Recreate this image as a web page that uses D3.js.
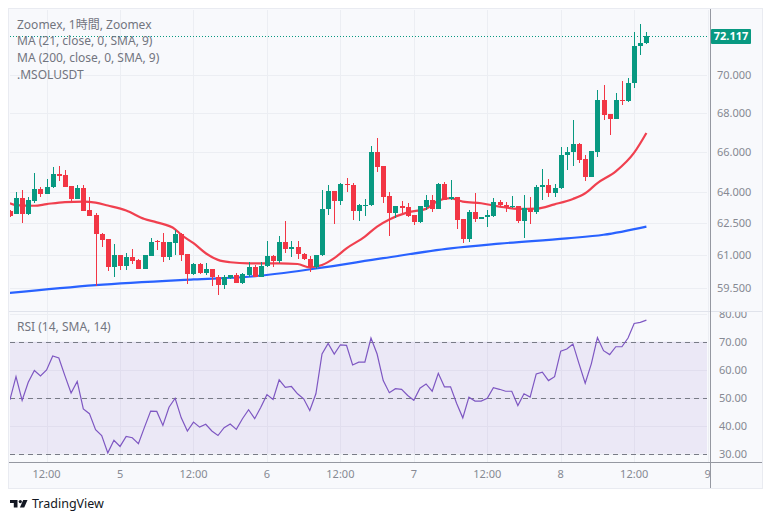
<!DOCTYPE html>
<html>
<head>
<meta charset="utf-8">
<script src="https://cdn.jsdelivr.net/npm/d3@7"></script>
<style>
body { margin: 0; background: #ffffff; }
svg text { font-family: "Noto Sans", "Noto Sans CJK JP", sans-serif; }
</style>
</head>
<body>
<div id="chart"></div>
<script>
// hourly bars, first one (partly hidden at the left edge) is day 4 06:00
var firstBar = Date.UTC(2024, 2, 4, 6);

var opens  = [63.10,62.95,63.71,62.95,63.60,64.17,63.94,64.25,64.91,64.86,64.31,63.69,64.20,63.15,62.90,62.00,61.74,60.46,61.01,60.51,60.92,60.78,60.37,60.98,61.65,61.61,60.92,61.58,62.00,61.05,60.14,60.60,60.19,60.35,59.97,59.63,59.94,60.08,59.72,60.08,60.46,60.00,60.49,60.97,60.75,61.61,61.30,61.38,61.06,60.80,60.43,60.99,63.20,64.07,63.60,64.43,64.36,63.11,63.36,63.37,66.03,65.30,63.82,63.02,63.34,63.28,62.90,62.56,63.31,63.63,63.20,64.41,63.68,63.76,62.69,61.75,63.07,62.72,62.79,62.85,63.55,63.41,63.28,63.33,62.61,63.23,63.07,64.29,64.36,63.99,64.22,65.84,66.00,66.44,65.66,64.78,66.03,68.69,67.96,67.72,68.69,68.65,69.57,71.56,71.76];
var highs  = [63.16,64.04,64.12,63.76,64.98,64.25,64.64,65.28,65.31,65.11,64.33,64.34,64.36,63.79,63.02,62.02,61.76,61.53,61.03,61.09,61.29,60.80,61.03,61.79,61.71,62.03,61.63,62.19,62.02,61.07,60.62,60.62,60.62,60.37,60.08,60.08,60.10,60.18,60.19,60.66,60.54,60.70,61.67,61.02,61.90,62.61,61.67,61.67,61.08,60.97,61.01,64.12,64.36,64.09,64.48,64.70,64.45,63.44,63.67,66.29,66.73,65.32,64.04,63.36,63.58,63.50,62.92,63.36,63.87,63.87,64.48,64.53,64.61,63.78,62.71,63.15,63.99,62.80,63.15,63.71,63.65,63.54,63.82,63.35,63.87,63.79,64.36,65.16,64.64,64.41,66.25,66.26,67.65,66.46,65.86,66.08,69.22,69.48,67.98,69.04,69.70,69.84,72.35,72.79,72.35];
var lows   = [62.80,62.93,62.53,62.90,63.47,63.77,63.92,64.22,64.58,64.26,63.58,63.67,63.09,62.85,59.59,61.40,60.28,60.00,60.31,60.31,60.60,60.35,60.35,60.96,61.24,60.70,60.78,61.01,60.75,59.67,60.08,60.15,60.08,59.59,59.17,59.43,59.88,59.70,59.69,60.00,59.98,59.98,60.46,60.46,60.63,61.11,60.92,60.81,60.78,60.23,60.34,60.97,62.90,62.46,63.39,64.04,62.66,62.63,62.85,63.33,65.03,63.50,61.92,62.74,62.99,62.82,62.42,62.54,63.15,63.07,63.18,63.61,63.61,62.23,61.56,61.63,62.55,62.70,62.31,62.79,63.30,63.07,63.26,62.53,61.82,62.46,62.94,63.63,63.79,63.79,64.17,65.11,65.33,65.47,64.58,64.76,65.78,67.65,66.87,67.70,68.41,68.60,69.34,71.11,71.72];
var closes = [62.84,63.71,62.96,63.63,64.17,63.94,64.28,64.91,64.83,64.28,63.68,64.20,63.11,62.87,62.00,61.72,60.46,61.01,60.51,60.92,60.75,60.37,61.01,61.61,61.60,60.92,61.61,62.00,61.02,60.14,60.60,60.19,60.35,59.97,59.63,59.97,60.08,59.72,60.13,60.43,60.00,60.49,60.97,60.75,61.61,61.29,61.38,61.06,60.80,60.43,60.99,63.20,64.07,63.60,64.43,64.35,63.11,63.37,63.39,66.03,65.27,63.79,63.02,63.34,63.23,62.87,62.58,63.34,63.63,63.20,64.41,63.63,63.77,62.66,61.77,63.07,62.69,62.79,62.90,63.55,63.37,63.28,63.33,62.61,63.26,63.07,64.29,64.38,63.99,64.22,65.86,66.02,66.44,65.61,64.78,66.06,68.69,67.91,67.72,68.69,68.64,69.57,71.58,71.74,72.117];

var rsiValues = [49.2,57.5,49.0,55.5,59.7,57.8,59.9,64.9,64.2,57.8,51.7,55.8,46.0,44.3,38.6,36.5,30.3,34.8,32.6,36.2,35.7,33.6,39.5,45.2,45.1,40.1,46.6,49.8,42.8,38.1,41.3,39.5,40.5,38.1,36.5,39.3,40.6,38.7,42.5,45.7,42.5,46.6,51.1,49.4,56.4,53.7,54.0,51.4,49.6,45.4,51.4,65.6,69.4,65.6,68.9,68.7,61.7,62.7,62.7,71.3,65.6,56.1,51.8,53.2,53.0,50.8,49.1,53.4,54.9,52.3,58.7,53.9,53.9,47.9,42.8,50.2,48.8,48.8,49.8,53.6,53.0,52.3,52.3,47.2,51.4,50.2,58.5,59.1,56.1,57.5,66.6,67.4,69.2,62.1,55.2,62.1,71.5,66.8,65.4,68.2,68.2,71.3,76.5,76.9,77.7];

// moving averages at some bars (bar number as in the arrays above)
var ma21Bars   = [0,1,4,6,9,12,14,16,19,22,24,27,28,30,32,34,36,39,44,47,49,51,53,55,58,60,62,65,68,70,72,74,77,80,83,86,89,92,94,96,99,102,104];
var ma21Values = [63.47,63.38,63.35,63.43,63.53,63.55,63.50,63.36,63.12,62.71,62.55,62.22,61.96,61.56,61.09,60.78,60.67,60.62,60.62,60.59,60.43,60.54,60.86,61.32,61.87,62.35,62.69,63.03,63.20,63.60,63.72,63.55,63.47,63.31,63.20,63.21,63.42,63.68,63.96,64.46,65.04,65.98,66.98];
var ma200Bars   = [0,14,30,39,50,61,72,80,91,97,104];
var ma200Values = [59.26,59.62,59.88,60.00,60.38,60.86,61.32,61.54,61.79,61.96,62.35];

var priceTicks = [59.5, 61, 62.5, 64, 66, 68, 70];
var rsiTicks = [30, 40, 50, 60, 70, 80];
var rsiLevels = [30, 50, 70];
var legendLines = ["Zoomex, 1時間, Zoomex", "MA (21, close, 0, SMA, 9)", "MA (200, close, 0, SMA, 9)", ".MSOLUSDT"];

var W = 772, H = 523;
var left = 10, plotRight = 707, axisX = 710, frameRight = 762;
var priceTop = 10, priceBottom = 311, rsiTop = 312, rsiBottom = 462;
var up = "#089981", down = "#f23645";
var gridColor = "#eceef3", textColor = "#868993";

function barTime(i) { return new Date(firstBar + i * 3600e3); }

var bars = closes.map(function (c, i) {
    return {t: barTime(i), o: opens[i], h: highs[i], l: lows[i], c: c};
});

var x = d3.scaleUtc()
    .domain([barTime(1), barTime(104)])
    .range([16, 646.4]);
var y = d3.scaleLog()
    .domain([70, 59.5])
    .range([75.3, 287.7]);
var yRsi = d3.scaleLinear()
    .domain([30, 70])
    .range([453.7, 341.7]);

var svg = d3.select("#chart").append("svg")
    .attr("width", W)
    .attr("height", H);

svg.append("rect")
    .attr("x", 8.5).attr("y", 8.5)
    .attr("width", frameRight - 8).attr("height", 480)
    .attr("fill", "#f8f9fc")
    .attr("stroke", "#e9ebf1");

var defs = svg.append("defs");
defs.append("clipPath").attr("id", "clipPrice").append("rect")
    .attr("x", left).attr("y", priceTop).attr("width", plotRight - left).attr("height", priceBottom - priceTop);
defs.append("clipPath").attr("id", "clipRsi").append("rect")
    .attr("x", left).attr("y", rsiTop).attr("width", plotRight - left).attr("height", rsiBottom - rsiTop);
defs.append("clipPath").attr("id", "clipRsiAxis").append("rect")
    .attr("x", axisX).attr("y", rsiTop).attr("width", 60).attr("height", rsiBottom - rsiTop);
defs.append("clipPath").attr("id", "clipTime").append("rect")
    .attr("x", left).attr("y", rsiBottom).attr("width", axisX - left).attr("height", 30);

var timeTicks = d3.utcHour.every(12).range(barTime(6), barTime(115));

// grid
var grid = svg.append("g").attr("class", "grid")
    .attr("stroke", gridColor).attr("shape-rendering", "crispEdges");
grid.selectAll(".vgrid").data(timeTicks).enter().append("line")
    .attr("x1", function (d) { return Math.round(x(d)) + 0.5; })
    .attr("x2", function (d) { return Math.round(x(d)) + 0.5; })
    .attr("y1", priceTop).attr("y2", rsiBottom);
grid.selectAll(".pgrid").data(priceTicks).enter().append("line")
    .attr("x1", left).attr("x2", plotRight)
    .attr("y1", function (d) { return Math.round(y(d)) + 0.5; })
    .attr("y2", function (d) { return Math.round(y(d)) + 0.5; });
grid.selectAll(".rgrid").data(rsiTicks).enter().append("line")
    .attr("x1", left).attr("x2", plotRight)
    .attr("y1", function (d) { return Math.round(yRsi(d)) + 0.5; })
    .attr("y2", function (d) { return Math.round(yRsi(d)) + 0.5; });

// pane separator and axis lines
svg.append("line").attr("x1", 9).attr("x2", frameRight).attr("y1", 311.5).attr("y2", 311.5)
    .attr("stroke", "#e0e3eb");
svg.append("line").attr("x1", axisX + 0.5).attr("x2", axisX + 0.5).attr("y1", 9).attr("y2", 488)
    .attr("stroke", "#9598a1");
svg.append("line").attr("x1", 9).attr("x2", frameRight).attr("y1", rsiBottom + 0.5).attr("y2", rsiBottom + 0.5)
    .attr("stroke", "#9598a1");

// price pane
var pricePane = svg.append("g").attr("clip-path", "url(#clipPrice)");

var lastClose = closes[closes.length - 1];
pricePane.append("line")
    .attr("x1", left).attr("x2", plotRight)
    .attr("y1", Math.round(y(lastClose)) + 0.5).attr("y2", Math.round(y(lastClose)) + 0.5)
    .attr("stroke", up).attr("stroke-dasharray", "1,2");

function maLine(barsIdx) {
    return d3.line()
        .x(function (d, i) { return x(barTime(barsIdx[i])); })
        .y(function (d) { return y(d); })
        .curve(d3.curveMonotoneX);
}
pricePane.append("path").datum(ma200Values)
    .attr("d", maLine(ma200Bars))
    .attr("fill", "none").attr("stroke", "#2962ff").attr("stroke-width", 2.2);
pricePane.append("path").datum(ma21Values)
    .attr("d", maLine(ma21Bars))
    .attr("fill", "none").attr("stroke", "#f0404f").attr("stroke-width", 2.2);

var candle = pricePane.selectAll(".candle").data(bars).enter()
    .append("g").attr("class", "candle")
    .attr("fill", function (d) { return d.c >= d.o ? up : down; })
    .attr("shape-rendering", "crispEdges");
candle.append("rect")
    .attr("x", function (d) { return Math.round(x(d.t)); })
    .attr("width", 1)
    .attr("y", function (d) { return y(d.h); })
    .attr("height", function (d) { return y(d.l) - y(d.h); });
candle.append("rect")
    .attr("x", function (d) { return Math.round(x(d.t)) - 2; })
    .attr("width", 5)
    .attr("y", function (d) { return y(Math.max(d.o, d.c)); })
    .attr("height", function (d) { return Math.max(1, Math.abs(y(d.o) - y(d.c))); });

// price axis
var priceAxis = svg.append("g").attr("font-size", 11).attr("fill", textColor);
priceAxis.selectAll("text").data(priceTicks).enter().append("text")
    .attr("x", 717)
    .attr("y", function (d) { return y(d); })
    .attr("dy", "0.35em")
    .text(d3.format(".3f"));

svg.append("rect")
    .attr("x", 711).attr("y", Math.round(y(lastClose)) - 7)
    .attr("width", 40).attr("height", 15).attr("rx", 1)
    .attr("fill", up);
svg.append("text")
    .attr("x", 731).attr("y", y(lastClose)).attr("dy", "0.35em")
    .attr("text-anchor", "middle")
    .attr("font-size", 11).attr("font-weight", "bold").attr("fill", "#ffffff")
    .text(d3.format(".3f")(lastClose));

// legend
svg.append("g").attr("font-size", 12).attr("fill", "#72757f")
    .selectAll("text").data(legendLines).enter().append("text")
    .attr("x", 17)
    .attr("y", function (d, i) { return 28.5 + i * 16.7; })
    .text(function (d) { return d; });

// RSI pane
var rsiPane = svg.append("g").attr("clip-path", "url(#clipRsi)");
rsiPane.append("rect")
    .attr("x", left).attr("width", plotRight - left)
    .attr("y", yRsi(70)).attr("height", yRsi(30) - yRsi(70))
    .attr("fill", "#7e57c2").attr("fill-opacity", 0.1);
rsiPane.selectAll(".level").data(rsiLevels).enter().append("line")
    .attr("x1", left).attr("x2", plotRight)
    .attr("y1", function (d) { return Math.round(yRsi(d)) + 0.5; })
    .attr("y2", function (d) { return Math.round(yRsi(d)) + 0.5; })
    .attr("stroke", "#787b86").attr("stroke-dasharray", "5,4");
rsiPane.append("path").datum(rsiValues)
    .attr("d", d3.line()
        .x(function (d, i) { return x(barTime(i)); })
        .y(function (d) { return yRsi(d); }))
    .attr("fill", "none").attr("stroke", "#7e57c2").attr("stroke-width", 1.2);

svg.append("text")
    .attr("x", 17).attr("y", 330.5)
    .attr("font-size", 12).attr("fill", "#72757f")
    .text("RSI (14, SMA, 14)");

svg.append("g").attr("clip-path", "url(#clipRsiAxis)")
    .attr("font-size", 11).attr("fill", textColor)
    .selectAll("text").data(rsiTicks).enter().append("text")
    .attr("x", 719)
    .attr("y", function (d) { return yRsi(d); })
    .attr("dy", "0.35em")
    .text(d3.format(".2f"));

// time axis
svg.append("g").attr("clip-path", "url(#clipTime)")
    .attr("font-size", 11).attr("fill", textColor).attr("text-anchor", "middle")
    .selectAll("text").data(timeTicks).enter().append("text")
    .attr("x", function (d) { return x(d); })
    .attr("y", 478)
    .text(function (d) { return d.getUTCHours() === 0 ? d3.utcFormat("%-d")(d) : "12:00"; });

// TradingView mark
var logo = svg.append("g").attr("fill", "#131722");
logo.append("path").attr("d", "M10,500 H17.5 V507.5 H13.8 V503 H10 Z");
logo.append("circle").attr("cx", 20.3).attr("cy", 501.6).attr("r", 1.6);
logo.append("path").attr("d", "M23.2,500 H27.5 L24.2,507.5 H19.9 Z");
svg.append("text")
    .attr("x", 32).attr("y", 507.5)
    .attr("font-size", 12.5).attr("fill", "#131722")
    .text("TradingView");
</script>
</body>
</html>
